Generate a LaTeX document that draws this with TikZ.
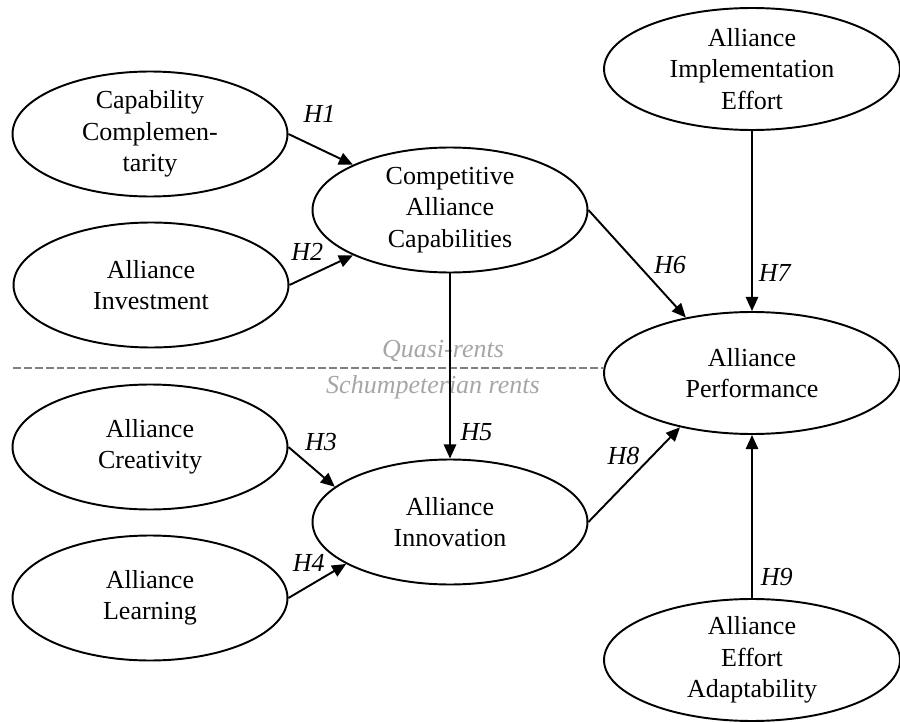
\documentclass[tikz,border=0pt]{standalone}
\usepackage{fontspec}
\setmainfont{Liberation Serif}
\usepackage{tikz}
\usetikzlibrary{shapes.geometric, arrows.meta, positioning, calc}
\tikzset{
	construct/.style={ellipse, draw, line width=1.1pt, inner sep=0pt, align=center,
		minimum width=5.5cm, minimum height=2.5cm,
		font=\fontsize{14.8}{17.8}\selectfont},
	outcome/.style={construct, minimum width=5.92cm, minimum height=2.44cm},
	path/.style={line width=1.1pt, -{Triangle[length=8pt,width=7pt]}}
}
\newcommand{\hyp}[1]{\textit{#1}}

\begin{document}
\begin{tikzpicture}[
	x=0.02cm, y=-0.02cm,
	lbl/.style={inner sep=0pt, font=\fontsize{14.8}{17.8}\selectfont},
	rent/.style={inner sep=0pt, anchor=base, text=black!35, font=\fontsize{14.8}{17.8}\selectfont\itshape},
	divider/.style={line width=1pt, black!50, dash pattern=on 4.5pt off 1.7pt}]
	\useasboundingbox (0,0) rectangle (900,723);
	% left-hand constructs
	\node[construct] (cc) at (150,134) {Capability\\Complemen-\\tarity};
	\node[construct] (inv) at (151,285) {Alliance\\Investment};
	\node[construct] (cre) at (150,447) {Alliance\\Creativity};
	\node[construct] (lea) at (150,598) {Alliance\\Learning};
	% mediators
	\node[construct] (cac) at (450,210) {Competitive\\Alliance\\Capabilities};
	\node[construct] (inn) at (450,522) {Alliance\\Innovation};
	% right-hand constructs
	\node[outcome] (aie) at (752,69) {Alliance\\Implementation\\Effort};
	\node[outcome] (ap) at (752,373) {Alliance\\Performance};
	\node[outcome] (aea) at (752,660) {Alliance\\Effort\\Adaptability};
	% rents divider
	\coordinate (dl) at (13,368);
	\draw[divider] (dl) -- (dl -| ap.west);
	\node[rent] (qr) at (443,357) {Quasi-rents};
	\node[rent] (sr) at (433,393) {Schumpeterian rents};
	% hypotheses
	\draw[path] (cc.east) -- node[lbl, pos=.48, above=14.5pt] {\hyp{H1}} (cac.155);
	\draw[path] (inv.east) -- node[lbl, pos=.28, above=8.6pt] {\hyp{H2}} (cac.205);
	\draw[path] (cre.east) -- node[lbl, pos=.7, above=13.4pt] {\hyp{H3}} (inn.163);
	\draw[path] (lea.east) -- node[lbl, pos=.35, above=8pt] {\hyp{H4}} (inn.202);
	\draw[path] (cac.south) -- node[lbl, pos=.856, right=5.5pt] {\hyp{H5}} (inn.north);
	\draw[path] (cac.east) -- node[lbl, pos=.51, right=8.5pt] {\hyp{H6}} (ap.140);
	\draw[path] (aie.south) -- node[lbl, pos=.79, right=3.4pt] {\hyp{H7}} (ap.north);
	\draw[path] (inn.east) -- node[lbl, pos=.7, left=7pt] {\hyp{H8}} (ap.217);
	\draw[path] (aea.north) -- node[lbl, pos=.13, right=4.5pt] {\hyp{H9}} (ap.south);
\end{tikzpicture}
\end{document}
